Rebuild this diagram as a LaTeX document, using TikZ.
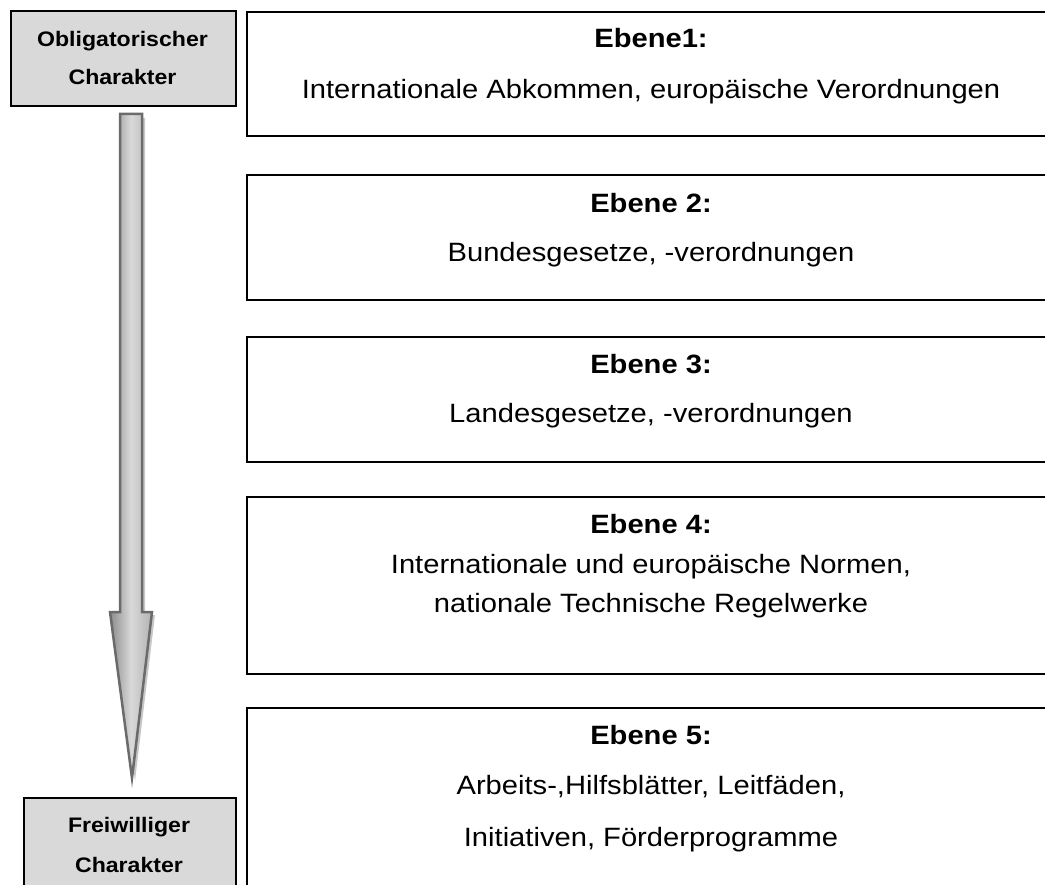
\documentclass[tikz,border=0pt]{standalone}
\usepackage{fontspec}
\setmainfont{Liberation Sans}[FakeStretch=1.1]
\begin{document}
\begin{tikzpicture}[x=1pt,y=-1pt,
  levelbox/.style={draw=black,line width=2pt,fill=white,rectangle,inner sep=0pt,anchor=north west},
  sidebox/.style={draw=black,line width=2pt,fill=black!15,rectangle,inner sep=0pt,anchor=north west},
  title/.style={anchor=base,font=\fontsize{26.5}{30}\selectfont\bfseries,inner sep=0pt},
  body/.style={anchor=base,font=\fontsize{26.5}{30}\selectfont,inner sep=0pt},
  side/.style={anchor=base,font=\fontsize{21}{25}\selectfont\bfseries,inner sep=0pt}]
\useasboundingbox (0,0) rectangle (1045,885);
\clip (0,0) rectangle (1045,885);
% right level boxes
\node[levelbox,minimum width=820pt,minimum height=124pt] (b1) at (246,11) {};
\node[levelbox,minimum width=820pt,minimum height=125pt] (b2) at (246,174) {};
\node[levelbox,minimum width=820pt,minimum height=125pt] (b3) at (246,336) {};
\node[levelbox,minimum width=820pt,minimum height=177pt] (b4) at (246,496) {};
\node[levelbox,minimum width=820pt,minimum height=200pt] (b5) at (246,707) {};
% texts
\node[title] (t1) at (651,48) {Ebene1:};
\node[body] (l1) at (651,99) {Internationale Abkommen, europäische Verordnungen};
\node[title] (t2) at (651,213) {Ebene 2:};
\node[body] (l2) at (651,262) {Bundesgesetze, -verordnungen};
\node[title] (t3) at (651,374) {Ebene 3:};
\node[body] (l3) at (651,423) {Landesgesetze, -verordnungen};
\node[title] (t4) at (651,533) {Ebene 4:};
\node[body] (l4a) at (651,573) {Internationale und europäische Normen,};
\node[body] (l4b) at (651,612) {nationale Technische Regelwerke};
\node[title] (t5) at (651,744) {Ebene 5:};
\node[body] (l5a) at (651,794) {Arbeits-,Hilfsblätter, Leitfäden,};
\node[body] (l5b) at (651,846) {Initiativen, Förderprogramme};
% side boxes
\node[sidebox,minimum width=225pt,minimum height=95pt] (top) at (10,10) {};
\node[side] (s1) at (122.5,47) {Obligatorischer};
\node[side] (s2) at (122.5,85) {Charakter};
\node[sidebox,minimum width=212pt,minimum height=110pt] (bot) at (23,797) {};
\node[side] (s3) at (129,832) {Freiwilliger};
\node[side] (s4) at (129,872) {Charakter};
% arrow shadow
\fill[black!22] (123,118) -- (145,118) -- (145,615) -- (155,615) -- (135,781) -- (113,615) -- (123,615) -- cycle;
% arrow
\draw[draw=black!58,line width=2.5pt,line join=miter,left color=black!45,right color=black!30,middle color=black!15]
  (120,114) -- (142,114) -- (142,612) -- (152,612) -- (132,778) -- (110,612) -- (120,612) -- cycle;
\end{tikzpicture}
\end{document}
